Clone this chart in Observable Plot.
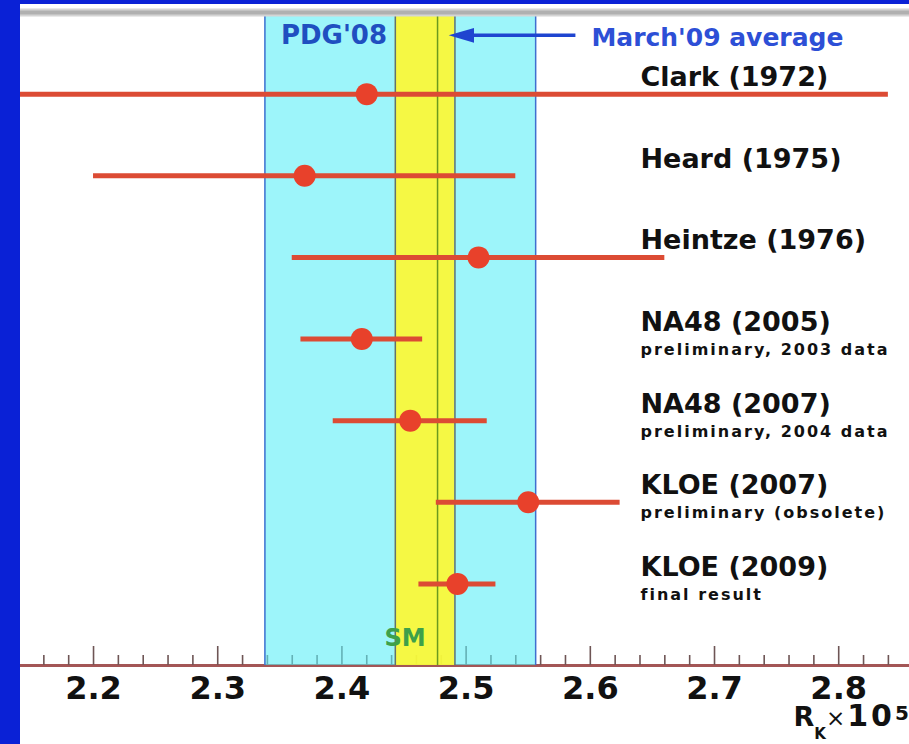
<!DOCTYPE html>
<html>
<head>
<meta charset="utf-8">
<script src="https://cdn.jsdelivr.net/npm/d3@7"></script>
<script src="https://cdn.jsdelivr.net/npm/@observablehq/plot@0.6"></script>
<style>
  html, body { margin: 0; padding: 0; background: #0a21d6; width: 909px; height: 744px; overflow: hidden; }
  #chart { position: absolute; left: 20px; top: 4px; width: 889px; height: 740px; background: #fff; overflow: hidden; }
  #chart svg { display: block; }
</style>
</head>
<body>
<div id="chart"></div>
<script>
// Measurements of R_K = Γ(K→eν)/Γ(K→μν), in units of 1e-5
const experiments = ["Clark (1972)", "Heard (1975)", "Heintze (1976)", "NA48 (2005)", "NA48 (2007)", "KLOE (2007)", "KLOE (2009)"];
const notes = ["", "", "", "preliminary, 2003 data", "preliminary, 2004 data", "preliminary (obsolete)", "final result"];
const rkValues = [2.42, 2.37, 2.51, 2.416, 2.455, 2.55, 2.493];
const rkErrors = [0.42, 0.17, 0.15, 0.049, 0.062, 0.074, 0.031];

// Reference bands and the Standard Model prediction
const pdg08 = {value: 2.447, error: 0.109};
const march09 = {value: 2.467, error: 0.024};
const smPrediction = 2.477;

// Axis ticks
const majorTicks = [2.2, 2.3, 2.4, 2.5, 2.6, 2.7, 2.8];
const minorTicks = [2.16, 2.18, 2.22, 2.24, 2.26, 2.28, 2.32, 2.34, 2.36, 2.38, 2.42, 2.44, 2.46, 2.48,
                    2.52, 2.54, 2.56, 2.58, 2.62, 2.64, 2.66, 2.68, 2.72, 2.74, 2.76, 2.78, 2.82, 2.84];

// Scale extents and annotation anchors (data units)
const xDomain = [2.1412, 2.857];
const yDomain = [-1, 7];
const labelX = 2.6404;
const arrowFrom = 2.588;
const arrowTo = 2.486;
const arrowRow = -0.72;

// axis title pieces: R_K × 10^5
const unitText = "RK×105";

const rows = experiments.map((name, i) => ({
  name, note: notes[i], value: rkValues[i], error: rkErrors[i], row: i
}));

// filled arrowhead pointing left, tip at the dot's anchor
const arrowHead = {
  draw(context, size) {
    const r = Math.sqrt(size / Math.PI);
    context.moveTo(0, 0);
    context.lineTo(2.3 * r, -0.68 * r);
    context.lineTo(2.3 * r, 0.68 * r);
    context.closePath();
  }
};

const bold = {fontWeight: "bold"};
const arrowBlue = "#1f45d0";

const chart = Plot.plot({
  width: 889,
  height: 740,
  marginLeft: 0,
  marginRight: 0,
  marginTop: 8,
  marginBottom: 79,
  x: {domain: xDomain},
  y: {domain: yDomain, reverse: true, axis: null},
  style: {fontFamily: "'DejaVu Sans', sans-serif", background: "transparent", overflow: "hidden"},
  marks: [
    // axis baseline and ticks (pointing into the plot)
    Plot.ruleY([yDomain[1]], {stroke: "#a35656", strokeWidth: 3}),
    Plot.tickX(majorTicks, {x: d => d, insetTop: 634, stroke: "#6e5555", strokeWidth: 1.6}),
    Plot.tickX(minorTicks, {x: d => d, insetTop: 643, stroke: "#6e5555", strokeWidth: 1.6}),
    Plot.axisX({anchor: "bottom", ticks: majorTicks, tickSize: 0, tickPadding: 11, tickFormat: d => d.toFixed(1),
                label: null, fontSize: 32, fontWeight: "bold", fill: "#111"}),

    // PDG'08 band
    Plot.rect([pdg08], {x1: d => d.value - d.error, x2: d => d.value + d.error, fill: "#5ceef7", fillOpacity: 0.6}),
    // March'09 average band
    Plot.rect([march09], {x1: d => d.value - d.error, x2: d => d.value + d.error, fill: "#fff830", fillOpacity: 0.9}),
    Plot.ruleX([pdg08.value - pdg08.error, pdg08.value + pdg08.error], {stroke: "#3f6fd0", strokeWidth: 1.5}),
    Plot.ruleX([march09.value - march09.error, march09.value + march09.error], {stroke: "#5f7272", strokeWidth: 1.5}),
    Plot.ruleX([smPrediction], {stroke: "#6a9a1e", strokeWidth: 1.5}),

    // top frame edge
    Plot.ruleY([yDomain[0]], {stroke: "#d4d4d4", strokeWidth: 8}),
    Plot.ruleY([yDomain[0]], {stroke: "#b0b0b0", strokeWidth: 4}),

    // measurements
    Plot.ruleY(rows, {y: "row", x1: d => d.value - d.error, x2: d => d.value + d.error,
                      stroke: "#dc4b34", strokeWidth: 5, clip: true}),
    Plot.dot(rows, {x: "value", y: "row", r: 11, fill: "#e8412b"}),

    // experiment labels
    Plot.text(rows, {x: () => labelX, y: "row", text: "name", textAnchor: "start", lineAnchor: "bottom",
                     dy: -8, fontSize: 27, fill: "#111", ...bold}),
    Plot.text(rows.filter(d => d.note), {x: () => labelX, y: "row", text: "note", textAnchor: "start",
                     lineAnchor: "bottom", dy: 16, fontSize: 16, fill: "#111", ...bold}),

    // band annotations
    Plot.text(["PDG'08"], {x: () => pdg08.value - pdg08.error, frameAnchor: "top", textAnchor: "start",
                          lineAnchor: "bottom", dx: 16, dy: 31, fontSize: 26, fill: "#1f4fc0", ...bold}),
    Plot.link([march09], {x1: () => arrowFrom, x2: () => arrowTo + 0.01, y1: () => arrowRow, y2: () => arrowRow,
                          stroke: arrowBlue, strokeWidth: 3.5}),
    Plot.dot([march09], {x: () => arrowTo, y: () => arrowRow, r: 11, symbol: arrowHead, fill: arrowBlue, stroke: null}),
    Plot.text(["March'09 average"], {x: () => arrowFrom, frameAnchor: "top", textAnchor: "start",
                          lineAnchor: "bottom", dx: 16, dy: 33, fontSize: 25, fill: "#2d4fd6", ...bold}),
    Plot.text(["SM"], {x: () => smPrediction, frameAnchor: "bottom", textAnchor: "end", lineAnchor: "bottom",
                       dx: -12, dy: -20, fontSize: 24, fill: "#3da04a", ...bold}),

    // axis title, split into sub/superscripts below
    Plot.text([unitText], {frameAnchor: "bottom-right", textAnchor: "start", lineAnchor: "bottom",
                           dx: -116, dy: 60, fontSize: 27, fill: "#111", ...bold})
  ]
});

const svg = d3.select(chart);

// the notes are set wider than the default glyph spacing
svg.selectAll("text")
  .filter(function () { return notes.includes(this.textContent) && this.textContent !== ""; })
  .style("letter-spacing", "2px");

// R_K × 10^5 with a subscript K and superscript 5
svg.selectAll("text")
  .filter(function () { return this.textContent === unitText; })
  .each(function () {
    const t = d3.select(this).text(null);
    t.append("tspan").text("R");
    t.append("tspan").text("K").style("font-size", "15px").attr("dy", 13);
    t.append("tspan").text("×").style("font-size", "23px").style("font-weight", "normal").attr("dy", -13);
    t.append("tspan").text("10").style("font-size", "30px").attr("dx", 2).style("letter-spacing", "3px");
    t.append("tspan").text("5").style("font-size", "20px").attr("dy", -6);
  });

document.getElementById("chart").append(chart);
</script>
</body>
</html>
